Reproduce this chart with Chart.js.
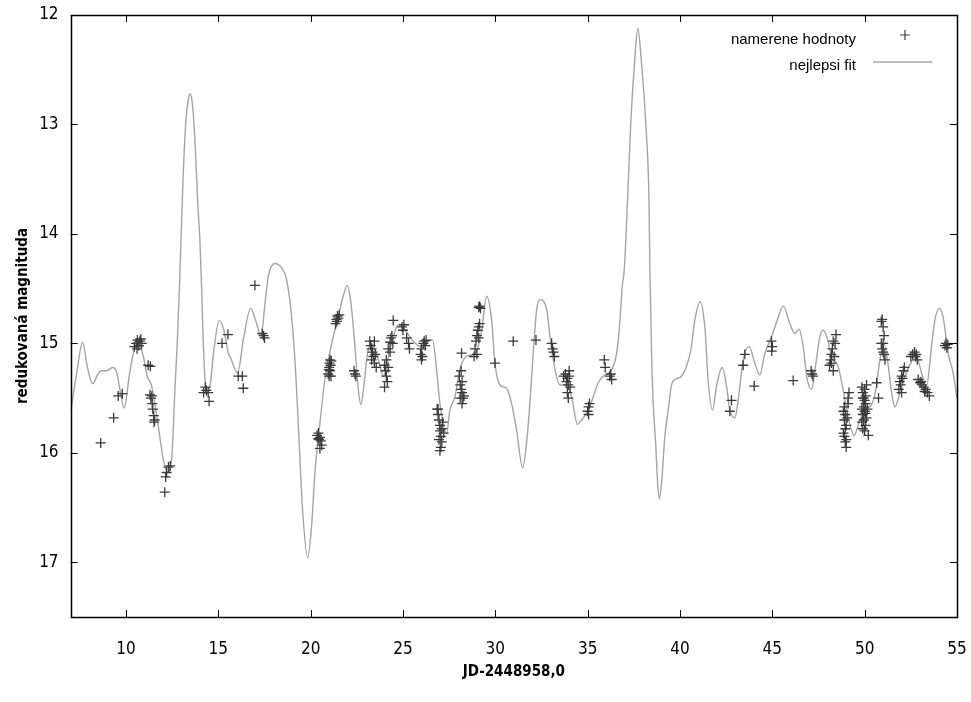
<!DOCTYPE html>
<html>
<head>
<meta charset="utf-8">
<script src="https://cdn.jsdelivr.net/npm/chart.js@4.4.0/dist/chart.umd.min.js"></script>
<style>
  html, body { margin: 0; padding: 0; background: #fff; }
  #wrap { width: 971px; height: 702px; }
</style>
</head>
<body>
<div id="wrap"><canvas id="c" width="971" height="702"></canvas></div>
<script>
// ---- data ----
const xTickValues = [10, 15, 20, 25, 30, 35, 40, 45, 50, 55];
const yTickValues = [12, 13, 14, 15, 16, 17];

const fitX = [7.0, 7.33, 7.65, 7.9, 8.2, 8.45, 8.68, 8.95, 9.28, 9.5, 9.67, 9.9, 10.2, 10.4, 10.67, 10.94, 11.15, 11.39, 11.75, 12.02, 12.24, 12.47, 12.65, 12.78, 12.89, 12.98, 13.1, 13.25, 13.4, 13.47, 13.6, 13.75, 13.88, 14.0, 14.1, 14.18, 14.28, 14.37, 14.55, 14.76, 15.05, 15.3, 15.54, 15.63, 16.05, 16.35, 16.75, 17.02, 17.31, 17.53, 17.7, 18.07, 18.43, 18.7, 18.97, 19.19, 19.37, 19.55, 19.84, 20.05, 20.23, 20.5, 20.77, 21.14, 21.49, 21.76, 21.98, 22.18, 22.4, 22.58, 22.72, 22.9, 23.08, 23.3, 23.66, 23.95, 24.3, 24.65, 24.83, 25.2, 25.55, 26.1, 26.46, 26.6, 26.82, 27.0, 27.36, 27.54, 27.81, 28.08, 28.35, 28.62, 28.99, 29.26, 29.53, 29.8, 29.98, 30.25, 30.61, 30.88, 31.15, 31.48, 31.69, 31.87, 32.05, 32.24, 32.41, 32.78, 32.96, 33.23, 33.5, 33.86, 34.13, 34.45, 34.67, 35.03, 35.3, 35.57, 35.84, 36.3, 36.57, 36.75, 36.87, 36.98, 37.16, 37.33, 37.55, 37.72, 37.9, 38.15, 38.32, 38.37, 38.46, 38.55, 38.68, 38.79, 38.88, 39.0, 39.18, 39.36, 39.54, 39.72, 40.08, 40.35, 40.6, 40.8, 41.09, 41.36, 41.52, 41.76, 41.98, 42.28, 42.52, 42.7, 42.97, 43.2, 43.42, 43.75, 44.05, 44.32, 44.6, 44.96, 45.26, 45.6, 45.95, 46.22, 46.45, 46.67, 46.89, 47.12, 47.36, 47.57, 47.75, 48.0, 48.2, 48.56, 48.83, 49.1, 49.43, 49.74, 50.01, 50.37, 50.64, 50.82, 51.06, 51.28, 51.46, 51.64, 51.91, 52.18, 52.5, 52.76, 53.08, 53.35, 53.62, 53.8, 54.03, 54.25, 54.52, 54.79, 55.0];
const fitY = [15.63, 15.27, 14.99, 15.21, 15.37, 15.29, 15.25, 15.25, 15.22, 15.27, 15.42, 15.59, 15.27, 15.09, 15.0, 15.12, 15.3, 15.39, 15.76, 16.06, 16.18, 16.06, 15.42, 14.97, 14.51, 14.05, 13.45, 12.95, 12.75, 12.72, 12.82, 13.2, 13.7, 14.05, 14.51, 14.97, 15.33, 15.45, 15.39, 15.06, 14.79, 14.88, 15.09, 15.12, 15.27, 14.97, 14.68, 14.79, 14.93, 14.63, 14.39, 14.27, 14.31, 14.42, 14.76, 15.27, 15.88, 16.49, 16.96, 16.67, 16.18, 15.73, 15.33, 15.0, 14.76, 14.57, 14.47, 14.63, 15.03, 15.42, 15.56, 15.36, 15.09, 15.0, 15.15, 15.3, 15.05, 14.85, 14.83, 14.9, 14.98, 15.04, 14.97, 14.97, 15.24, 15.55, 15.82, 15.61, 15.49, 15.24, 15.13, 15.11, 15.07, 14.88, 14.57, 14.79, 15.18, 15.38, 15.41, 15.55, 15.79, 16.14, 15.91, 15.55, 15.09, 14.69, 14.6, 14.69, 14.94, 15.24, 15.38, 15.38, 15.49, 15.74, 15.7, 15.61, 15.49, 15.36, 15.3, 15.24, 15.09, 14.79, 14.48, 14.33, 13.69, 13.0, 12.41, 12.12, 12.41, 13.0, 13.69, 14.33, 15.09, 15.55, 15.91, 16.28, 16.42, 16.28, 15.85, 15.61, 15.38, 15.33, 15.3, 15.21, 15.05, 14.79, 14.62, 14.88, 15.33, 15.61, 15.39, 15.22, 15.39, 15.61, 15.68, 15.45, 15.15, 15.03, 15.18, 15.29, 15.09, 14.94, 14.79, 14.66, 14.82, 14.91, 14.87, 15.03, 15.33, 15.42, 15.18, 14.94, 14.88, 14.97, 15.12, 15.21, 15.42, 15.67, 15.84, 15.7, 15.61, 15.56, 15.39, 15.15, 15.01, 15.21, 15.45, 15.58, 15.45, 15.3, 15.18, 15.1, 15.27, 15.39, 15.03, 14.79, 14.68, 14.76, 15.09, 15.27, 15.5];

const measX = [8.63, 9.33, 9.58, 9.8,
  10.45, 10.55, 10.6, 10.62, 10.7, 10.75, 10.8, 10.85,
  11.2, 11.32,
  11.3, 11.35, 11.4, 11.42, 11.45, 11.5, 11.55, 11.52,
  12.3, 12.4, 12.2, 12.15, 12.1,
  14.2, 14.3, 14.35, 14.45, 14.5,
  15.2, 15.52,
  16.08, 16.3, 16.35,
  16.98,
  17.38, 17.45, 17.5,
  20.35, 20.4, 20.45, 20.5, 20.55, 20.6, 20.5, 20.42,
  20.95, 21.0, 21.02, 21.05, 21.08, 21.1, 21.12, 21.0, 21.05, 20.98,
  21.35, 21.4, 21.45, 21.5, 21.55, 21.42,
  22.35, 22.4, 22.45,
  23.2, 23.25, 23.3, 23.35, 23.4, 23.45, 23.5, 23.55, 23.45, 23.3,
  24.0, 24.05, 24.1, 24.15, 24.0, 24.1, 24.2,
  24.2, 24.3, 24.35, 24.4, 24.45, 24.3,
  24.47,
  24.95, 25.0, 25.05,
  25.2, 25.3, 25.35,
  25.95, 26.0, 26.05, 26.1, 26.15, 26.2, 26.25, 26.0,
  26.85, 26.9, 26.95, 27.0, 27.0, 27.05, 27.1, 27.1, 27.15, 27.2, 26.95, 27.05, 27.0, 26.9,
  28.17,
  28.05, 28.1, 28.15, 28.2, 28.1, 28.25, 28.2, 28.15, 28.3, 28.2,
  28.85, 28.9, 28.95, 29.0, 29.05, 29.1, 29.15, 29.0, 29.1,
  29.1, 29.15, 29.2,
  29.98, 30.97, 32.2,
  33.05, 33.1, 33.15, 33.2,
  33.7, 33.8, 33.85, 33.9, 33.95, 34.0, 34.05, 33.9, 33.95, 34.0,
  35.0, 35.05, 35.1, 35.05,
  35.9, 35.95,
  36.2, 36.25, 36.3,
  42.7, 42.79,
  43.42, 43.51,
  44.02,
  44.95, 45.0, 44.97,
  46.13,
  47.1, 47.15, 47.2,
  48.1, 48.15, 48.2, 48.25, 48.3, 48.35, 48.4, 48.45, 48.3, 48.2,
  48.85, 48.9, 48.95, 49.0, 48.9, 48.95, 49.0, 48.85, 48.9, 49.05, 49.1, 49.15, 49.1, 49.0, 48.95,
  49.85, 49.9, 49.95, 50.0, 50.05, 49.85, 49.9, 49.95, 50.0, 50.05, 49.9, 50.0, 50.1, 49.95, 50.05, 50.1, 49.85, 50.0, 49.9, 50.05, 50.2, 50.15,
  50.65, 50.75,
  50.9, 50.95, 51.0, 51.05, 51.0, 50.95, 51.05, 51.1, 50.9, 51.0,
  51.85, 51.9, 51.95, 52.0, 52.05, 52.1, 52.15, 52.0,
  52.5, 52.6, 52.7, 52.75, 52.8, 52.85,
  52.9, 53.0, 53.1, 53.2, 53.3, 53.4, 53.5, 53.05, 53.25,
  54.35, 54.4, 54.45, 54.5];
const measY = [15.91, 15.68, 15.48, 15.46,
  15.03, 15.0, 15.05, 14.97, 15.02, 14.98, 14.96, 15.0,
  15.2, 15.21,
  15.47, 15.5, 15.48, 15.55, 15.6, 15.66, 15.7, 15.72,
  16.13, 16.12, 16.18, 16.22, 16.36,
  15.45, 15.4, 15.43, 15.45, 15.53,
  15.0, 14.92,
  15.3, 15.3, 15.41,
  14.47,
  14.91, 14.93, 14.95,
  15.84, 15.87, 15.88, 15.86, 15.89, 15.93, 15.96, 15.82,
  15.28, 15.22, 15.18, 15.25, 15.2, 15.3, 15.16, 15.3, 15.15, 15.24,
  14.82, 14.78, 14.75, 14.77, 14.74, 14.8,
  15.25, 15.28, 15.3,
  14.98, 15.02, 15.05, 15.08, 15.12, 15.18, 15.1, 15.22, 14.98, 15.15,
  15.2, 15.25, 15.3, 15.35, 15.4, 15.15, 15.22,
  15.05, 14.99, 14.95, 14.93, 15.0, 15.08,
  14.79,
  14.85, 14.88, 14.83,
  14.95, 15.0, 15.05,
  15.1, 15.05, 15.12, 15.0, 14.98, 15.02, 14.97, 15.15,
  15.6, 15.65, 15.7, 15.75, 15.8, 15.85, 15.78, 15.9, 15.72, 15.82, 15.88, 15.95, 15.98, 15.6,
  15.09,
  15.3, 15.38, 15.42, 15.45, 15.5, 15.5, 15.35, 15.25, 15.48, 15.55,
  15.12, 15.05, 14.98, 14.93, 14.88, 14.85, 14.82, 15.1, 14.95,
  14.67, 14.66, 14.68,
  15.18, 14.98, 14.97,
  15.0, 15.05, 15.08, 15.12,
  15.3, 15.28, 15.35, 15.32, 15.38, 15.25, 15.4, 15.45, 15.5, 15.3,
  15.62, 15.58, 15.55, 15.65,
  15.15, 15.22,
  15.3, 15.28, 15.33,
  15.62, 15.52,
  15.2, 15.1,
  15.39,
  14.98, 15.03, 15.07,
  15.34,
  15.25, 15.28, 15.3,
  15.2, 15.15, 15.1, 15.05, 14.98, 15.12, 15.0, 14.92, 15.25, 15.18,
  15.62, 15.7, 15.65, 15.75, 15.85, 15.9, 15.95, 15.82, 15.58, 15.68, 15.55, 15.45, 15.5, 15.88, 15.78,
  15.4, 15.45, 15.5, 15.42, 15.55, 15.6, 15.65, 15.7, 15.62, 15.75, 15.78, 15.8, 15.68, 15.58, 15.48, 15.38, 15.72, 15.52, 15.5, 15.64, 15.84, 15.6,
  15.36, 15.5,
  14.8, 14.78, 14.85, 14.93, 15.0, 15.05, 15.1, 15.15, 15.0, 15.08,
  15.42, 15.35, 15.38, 15.3, 15.32, 15.25, 15.22, 15.45,
  15.12, 15.1, 15.08, 15.12, 15.1, 15.15,
  15.33, 15.36, 15.38, 15.4, 15.42, 15.45, 15.48, 15.35, 15.44,
  15.02, 15.0, 15.04, 15.01];

const seriesLabels = ['namerene hodnoty', 'nejlepsi fit'];
const xTitle = 'JD-2448958,0';
const yTitle = 'redukovaná magnituda';

// ---- styles ----
const FIT_COLOR = '#a4a4a4';
const PT_COLOR = '#3a3a3a';
const TICK_FONT = { family: "'Liberation Sans Narrow', 'DejaVu Sans Condensed', 'Liberation Sans', sans-serif", size: 17 };
const TITLE_FONT = { family: "'Liberation Sans Narrow', 'DejaVu Sans Condensed', 'Liberation Sans', sans-serif", size: 15, weight: 'bold' };
const LEGEND_FONT = "15px 'Liberation Sans', Arial, sans-serif";

const fitData = fitX.map((x, i) => ({ x: x, y: fitY[i] }));
const measData = measX.map((x, i) => ({ x: x, y: measY[i] }));

const framePlugin = {
  id: 'frameTicks',
  afterDatasetsDraw(chart) {
    const { ctx, chartArea: a, scales: { x, y } } = chart;
    ctx.save();
    ctx.strokeStyle = '#000';
    ctx.lineWidth = 1;
    ctx.beginPath();
    const L = 7;
    xTickValues.forEach(v => {
      const px = Math.round(x.getPixelForValue(v)) + 0.5;
      ctx.moveTo(px, a.bottom); ctx.lineTo(px, a.bottom - L);
      ctx.moveTo(px, a.top); ctx.lineTo(px, a.top + L);
    });
    yTickValues.forEach(v => {
      const py = Math.round(y.getPixelForValue(v)) + 0.5;
      ctx.moveTo(a.left, py); ctx.lineTo(a.left + L, py);
      ctx.moveTo(a.right, py); ctx.lineTo(a.right - L, py);
    });
    ctx.stroke();
    ctx.lineWidth = 1.5;
    ctx.strokeRect(Math.round(a.left) + 0.5, Math.round(a.top) + 0.5, Math.round(a.right - a.left), Math.round(a.bottom - a.top));

    // legend
    ctx.font = LEGEND_FONT;
    ctx.fillStyle = '#000';
    ctx.textAlign = 'right';
    ctx.textBaseline = 'middle';
    const tx = a.right - 101;
    ctx.fillText(seriesLabels[0], tx, a.top + 25);
    ctx.fillText(seriesLabels[1], tx, a.top + 51);
    // plus sample
    ctx.strokeStyle = PT_COLOR;
    ctx.lineWidth = 1.2;
    const cx = a.right - 52, cy = a.top + 20;
    ctx.beginPath();
    ctx.moveTo(cx - 5, cy); ctx.lineTo(cx + 5, cy);
    ctx.moveTo(cx, cy - 5); ctx.lineTo(cx, cy + 5);
    ctx.stroke();
    // line sample
    ctx.strokeStyle = FIT_COLOR;
    ctx.lineWidth = 1.5;
    ctx.beginPath();
    ctx.moveTo(a.right - 84, a.top + 47); ctx.lineTo(a.right - 25, a.top + 47);
    ctx.stroke();
    ctx.restore();
  }
};

new Chart(document.getElementById('c'), {
  type: 'scatter',
  data: {
    datasets: [
      {
        label: seriesLabels[1],
        data: fitData,
        showLine: true,
        borderColor: FIT_COLOR,
        borderWidth: 1.4,
        pointRadius: 0,
        cubicInterpolationMode: 'monotone',
        fill: false,
        order: 2
      },
      {
        label: seriesLabels[0],
        data: measData,
        showLine: false,
        pointStyle: 'cross',
        pointRadius: 5,
        borderColor: PT_COLOR,
        backgroundColor: PT_COLOR,
        pointBorderWidth: 1.3,
        order: 1
      }
    ]
  },
  options: {
    responsive: false,
    animation: false,
    devicePixelRatio: 1,
    layout: { padding: { left: 0, right: 14, top: 15, bottom: 0 } },
    plugins: { legend: { display: false }, tooltip: { enabled: false } },
    scales: {
      x: {
        type: 'linear',
        min: 7, max: 55,
        afterBuildTicks: s => { s.ticks = xTickValues.map(v => ({ value: v })); },
        afterFit: s => { s.height = 85; s.paddingLeft = 0; s.paddingRight = 0; },
        grid: { display: false, drawTicks: false },
        border: { display: false },
        ticks: { font: TICK_FONT, color: '#000', padding: 22, maxRotation: 0 },
        title: { display: true, text: xTitle, font: TITLE_FONT, color: '#000', padding: { top: 0, bottom: 21 } }
      },
      y: {
        type: 'linear',
        reverse: true,
        min: 12, max: 17.5,
        afterBuildTicks: s => { s.ticks = yTickValues.map(v => ({ value: v })); },
        afterFit: s => { s.width = 70.6; s.paddingTop = 0; s.paddingBottom = 0; },
        grid: { display: false, drawTicks: false },
        border: { display: false },
        ticks: { font: TICK_FONT, color: '#000', padding: 12 },
        title: { display: true, text: yTitle, font: TITLE_FONT, color: '#000', padding: { top: 14, bottom: 0 } }
      }
    }
  },
  plugins: [framePlugin]
});
</script>
</body>
</html>
